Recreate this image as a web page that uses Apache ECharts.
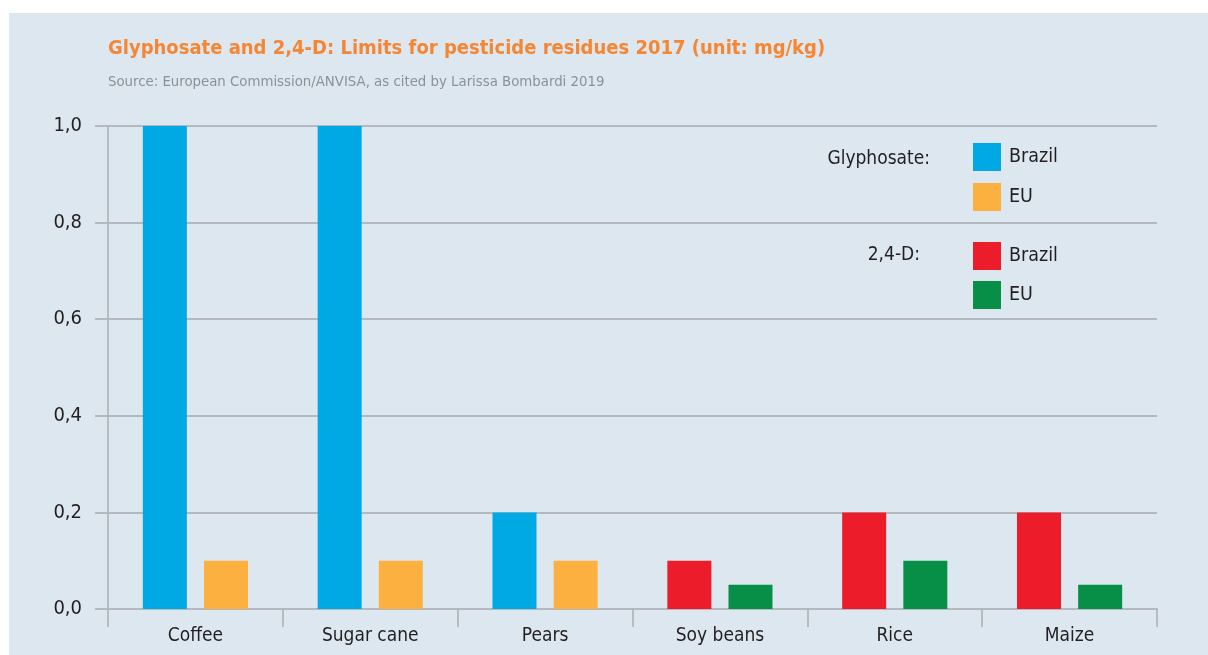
<!DOCTYPE html>
<html>
<head>
<meta charset="utf-8">
<script src="https://cdn.jsdelivr.net/npm/echarts@6/dist/echarts.min.js"></script>
<style>
html,body{margin:0;padding:0;background:#ffffff;}
#chart{width:1208px;height:655px;}
</style>
</head>
<body>
<div id="chart"></div>
<script>
const categories = ['Coffee', 'Sugar cane', 'Pears', 'Soy beans', 'Rice', 'Maize'];
const glyphosateBrazil = [1.0, 1.0, 0.2, null, null, null];
const glyphosateEU = [0.1, 0.1, 0.1, null, null, null];
const d24Brazil = [null, null, null, 0.1, 0.2, 0.2];
const d24EU = [null, null, null, 0.05, 0.1, 0.05];
const yTicks = [0, 0.2, 0.4, 0.6, 0.8, 1.0];

const FONT = '"Liberation Sans Narrow", "DejaVu Sans Condensed", "Roboto Condensed", sans-serif';
const colors = {gb: '#00a9e3', ge: '#fbb040', db: '#ed1c2b', de: '#078f47'};

function legendAt(name, label, top) {
  return {
    show: true, left: 973, top: top, padding: 0, orient: 'vertical',
    itemWidth: 28, itemHeight: 28, itemGap: 0, selectedMode: false,
    icon: 'rect',
    data: [{name: name}],
    formatter: () => label,
    textStyle: {fontFamily: FONT, fontSize: 19.5, color: '#231f20', padding: [4, 0, 0, 3]}
  };
}

const chart = echarts.init(document.getElementById('chart'), null, {renderer: 'canvas'});
chart.setOption({
  animation: false,
  backgroundColor: 'transparent',
  graphic: [
    {type: 'rect', z: -10, shape: {x: 9, y: 13, width: 1199, height: 642}, style: {fill: '#dce7f0'}, silent: true},
    {type: 'text', left: 108, top: 39, style: {text: 'Glyphosate and 2,4-D: Limits for pesticide residues 2017 (unit: mg/kg)', fill: '#f58634', font: 'bold 20px ' + FONT}},
    {type: 'text', left: 108, top: 75, style: {text: 'Source: European Commission/ANVISA, as cited by Larissa Bombardi 2019', fill: '#8c9196', font: '14.8px ' + FONT}},
    {type: 'text', right: 1208 - 930, top: 150, style: {text: 'Glyphosate:', fill: '#231f20', font: '19px ' + FONT, align: 'right'}},
    {type: 'text', right: 1208 - 920, top: 246, style: {text: '2,4-D:', fill: '#231f20', font: '19px ' + FONT, align: 'right'}}
  ],
  legend: [
    legendAt('Glyphosate Brazil', 'Brazil', 143),
    legendAt('Glyphosate EU', 'EU', 183),
    legendAt('2,4-D Brazil', 'Brazil', 242),
    legendAt('2,4-D EU', 'EU', 281)
  ],
  grid: {left: 108, right: 51, top: 126, bottom: 46},
  xAxis: {
    type: 'category',
    data: categories,
    axisLine: {show: true, lineStyle: {color: '#b3b9bf', width: 2}},
    axisTick: {show: true, length: 18, interval: 0, lineStyle: {color: '#a9aeb3', width: 1.5}},
    axisLabel: {fontFamily: FONT, fontSize: 19, color: '#231f20', margin: 18, interval: 0}
  },
  yAxis: {
    type: 'value',
    min: 0, max: 1, interval: 0.2,
    axisLine: {show: true, lineStyle: {color: '#a9aeb3', width: 1.5}},
    axisTick: {show: true, inside: false, length: 13, lineStyle: {color: '#b3b9bf', width: 2}},
    splitLine: {show: true, lineStyle: {color: '#b3b9bf', width: 2}},
    axisLabel: {
      fontFamily: FONT, fontSize: 20, color: '#231f20', margin: 26,
      formatter: v => {
        const t = yTicks.find(x => Math.abs(x - v) < 1e-9);
        return (t !== undefined ? t : v).toFixed(1).replace('.', ',');
      }
    }
  },
  series: [
    {name: 'Glyphosate Brazil', type: 'bar', stack: 'brazil', data: glyphosateBrazil, barWidth: 44, barGap: '39%', itemStyle: {color: colors.gb}},
    {name: 'Glyphosate EU', type: 'bar', stack: 'eu', data: glyphosateEU, barWidth: 44, barGap: '39%', itemStyle: {color: colors.ge}},
    {name: '2,4-D Brazil', type: 'bar', stack: 'brazil', data: d24Brazil, barWidth: 44, barGap: '39%', itemStyle: {color: colors.db}},
    {name: '2,4-D EU', type: 'bar', stack: 'eu', data: d24EU, barWidth: 44, barGap: '39%', itemStyle: {color: colors.de}}
  ]
});
</script>
</body>
</html>
